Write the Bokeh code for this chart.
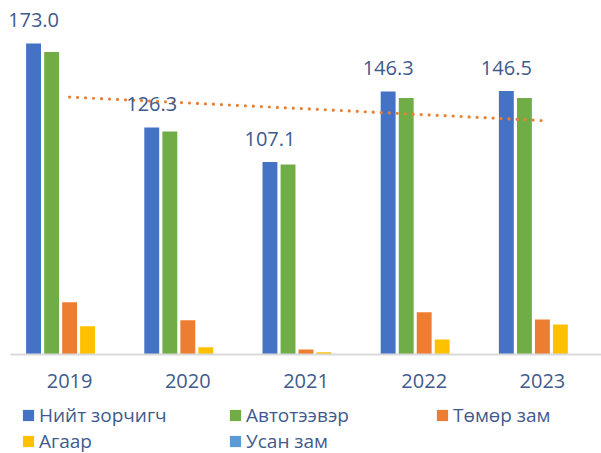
import numpy as np
from bokeh.plotting import figure
from bokeh.layouts import column
from bokeh.models import ColumnDataSource, Legend, LegendItem, Range1d, FactorRange
from bokeh.transform import dodge
from bokeh.core.properties import value
from bokeh.embed import file_html
from bokeh.resources import INLINE

years = ["2019", "2020", "2021", "2022", "2023"]
total = [173.0, 126.3, 107.1, 146.3, 146.5]
road = [168.3, 124.0, 105.7, 142.7, 142.6]
rail = [29.1, 19.1, 2.8, 23.5, 19.5]
air = [15.7, 4.1, 1.3, 8.3, 16.7]
water = [0.0, 0.0, 0.0, 0.3, 0.3]
total_labels = ["173.0", "126.3", "107.1", "146.3", "146.5"]
series_names = ["Нийт зорчигч", "Автотээвэр", "Төмөр зам", "Агаар", "Усан зам"]
colors = ["#4472C4", "#70AD47", "#ED7D31", "#FFC000", "#5B9BD5"]

FONT = "Open Sans"
TEXT_COLOR = "#3F5A8C"

# linear trendline of the road-transport series
idx = np.arange(len(years))
slope, intercept = np.polyfit(idx, road, 1)
trend = list(intercept + slope * idx)

src = ColumnDataSource(dict(years=years, total=total, road=road, rail=rail,
                            air=air, water=water, labels=total_labels, trend=trend))

p = figure(x_range=FactorRange(*years, range_padding=0), y_range=Range1d(0, 196.9),
           width=601, height=400, output_backend="svg", toolbar_location=None,
           min_border_left=10, min_border_right=0, min_border_top=0, min_border_bottom=46)
p.outline_line_color = None
p.xgrid.visible = False
p.ygrid.visible = False
p.yaxis.visible = False

cols = ["total", "road", "rail", "air", "water"]
offsets = [-0.305, -0.152, 0.0, 0.152, 0.305]
for c, off, col in zip(cols, offsets, colors):
    p.vbar(x=dodge("years", off, range=p.x_range), top=c, width=0.126,
           source=src, fill_color=col, line_color=None)

p.line(x="years", y="trend", source=src, line_color="#ED7D31", line_width=3.2,
       line_dash="0 8", line_cap="round")

p.text(x=dodge("years", -0.305, range=p.x_range), y="total", text="labels", source=src,
       y_offset=-16, text_align="center", text_baseline="bottom",
       text_font=value(FONT), text_font_size="20px", text_color=TEXT_COLOR)

xa = p.xaxis[0]
xa.axis_line_color = "#D9D9D9"
xa.axis_line_width = 2
xa.major_tick_line_color = None
xa.minor_tick_line_color = None
xa.major_label_text_font = FONT
xa.major_label_text_font_size = "20px"
xa.major_label_text_color = TEXT_COLOR
xa.major_label_standoff = 13

# legend strip below the chart (same series, plotted out of view)
lg = figure(width=601, height=53, output_backend="svg", toolbar_location=None,
            x_range=FactorRange(*years), y_range=Range1d(1000, 1001),
            min_border_left=0, min_border_right=0, min_border_top=0, min_border_bottom=0)
lg.outline_line_color = None
lg.xaxis.visible = False
lg.yaxis.visible = False
lg.xgrid.visible = False
lg.ygrid.visible = False
legend_renderers = [lg.vbar(x="years", top=c, width=0.1, source=src,
                            fill_color=col, line_color=None)
                    for c, col in zip(cols, colors)]
items = [LegendItem(label=n, renderers=[r]) for n, r in zip(series_names, legend_renderers)]
legend = Legend(items=items, orientation="horizontal", ncols=3,
                location=(11, -1), margin=0, padding=0, spacing=0,
                glyph_width=14, glyph_height=14, label_standoff=4,
                label_width=189, label_height=25,
                label_text_font=FONT, label_text_font_size="19px",
                label_text_color=TEXT_COLOR, border_line_color=None,
                background_fill_alpha=0)
lg.add_layout(legend, "center")

layout = column(p, lg, spacing=0)
open("out.html", "w").write(file_html(layout, INLINE))
